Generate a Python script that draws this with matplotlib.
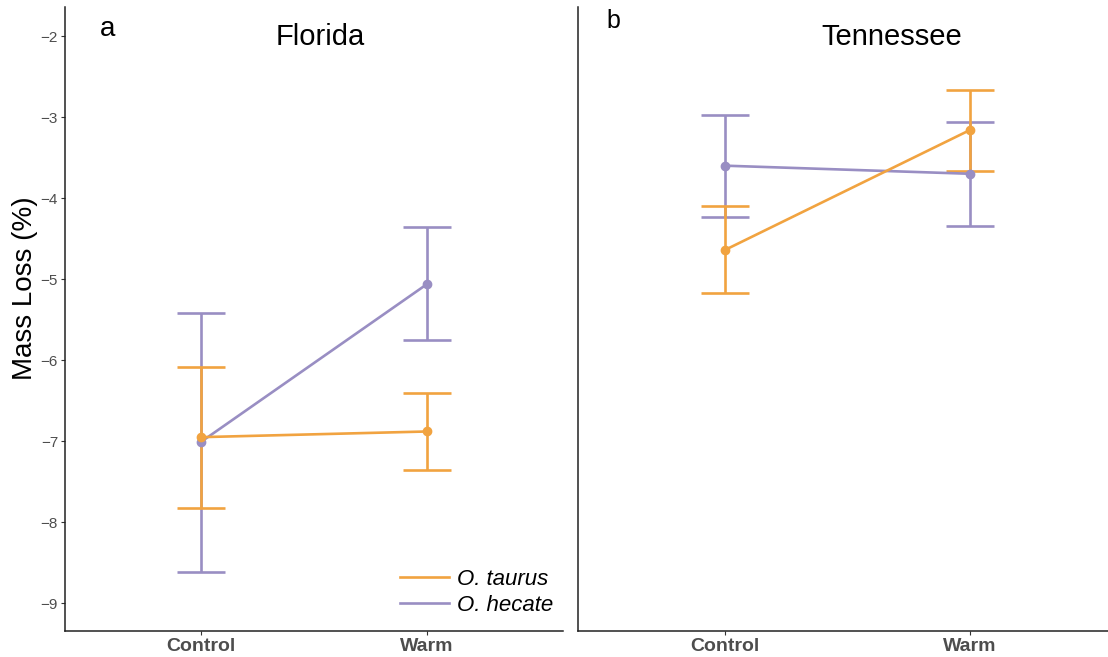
import matplotlib
matplotlib.use('Agg')
import matplotlib.pyplot as plt
import numpy as np

plt.rcParams['font.family'] = ['Liberation Sans', 'DejaVu Sans']

groups = ['Control', 'Warm']
species = ['O. taurus', 'O. hecate']
colors = {'O. taurus': '#f1a340', 'O. hecate': '#998ec3'}

# Florida: mean, lower and upper error bar ends
fl_taurus = [-6.95, -6.88]
fl_taurus_lo = [-7.83, -7.36]
fl_taurus_hi = [-6.08, -6.40]
fl_hecate = [-7.01, -5.06]
fl_hecate_lo = [-8.61, -5.75]
fl_hecate_hi = [-5.42, -4.36]

# Tennessee
tn_taurus = [-4.64, -3.16]
tn_taurus_lo = [-5.17, -3.66]
tn_taurus_hi = [-4.10, -2.67]
tn_hecate = [-3.60, -3.70]
tn_hecate_lo = [-4.23, -4.34]
tn_hecate_hi = [-2.97, -3.06]

W, H = 1108, 657
fig = plt.figure(figsize=(W / 100, H / 100), dpi=100)


def px(x0, y0, x1, y1):
    return [x0 / W, 1 - y1 / H, (x1 - x0) / W, (y1 - y0) / H]


ax1 = fig.add_axes(px(65, 7, 563, 631))
ax2 = fig.add_axes(px(578, 7, 1117, 631))

xs = np.arange(len(groups))


def draw(ax, series):
    handles = {}
    for name, mean, lo, hi in series:
        mean = np.array(mean)
        yerr = [mean - np.array(lo), np.array(hi) - mean]
        ax.errorbar(xs, mean, yerr=yerr, fmt='none', ecolor=colors[name],
                    elinewidth=1.9, capsize=17, capthick=1.9, zorder=2)
        h, = ax.plot(xs, mean, color=colors[name], lw=1.9, marker='o',
                     markersize=6, zorder=3)
        handles[name] = h
    return handles


hd = draw(ax1, [('O. hecate', fl_hecate, fl_hecate_lo, fl_hecate_hi),
                ('O. taurus', fl_taurus, fl_taurus_lo, fl_taurus_hi)])
draw(ax2, [('O. hecate', tn_hecate, tn_hecate_lo, tn_hecate_hi),
           ('O. taurus', tn_taurus, tn_taurus_lo, tn_taurus_hi)])

for ax in (ax1, ax2):
    ax.set_xlim(-0.6, 1.6)
    ax.set_ylim(-9.342, -1.642)
    ax.set_yticks([-9, -8, -7, -6, -5, -4, -3, -2])
    ax.set_yticklabels(['\u22129', '\u22128', '\u22127', '\u22126', '\u22125',
                        '\u22124', '\u22123', '\u22122'])
    ax.set_xticks(xs)
    ax.set_xticklabels(groups, fontsize=14, fontweight='bold', color='#4D4D4D')
    for s in ('top', 'right'):
        ax.spines[s].set_visible(False)
    for s in ('left', 'bottom'):
        ax.spines[s].set_linewidth(1.1)
        ax.spines[s].set_color('#222222')
    ax.tick_params(axis='x', length=3, width=0.8, color='#333333', pad=2)
    ax.tick_params(axis='y', length=3, width=0.8, color='#333333',
                   labelsize=11, labelcolor='#4D4D4D', pad=2)

ax2.tick_params(axis='y', left=False, labelleft=False)

fig.text(25 / W, 1 - 288 / H, 'Mass Loss (%)', fontsize=20, rotation=90,
         ha='center', va='center')

fig.text(320 / W, 1 - 37 / H, 'Florida', fontsize=21, ha='center', va='center')
fig.text(892 / W, 1 - 37 / H, 'Tennessee', fontsize=21, ha='center', va='center')
fig.text(108 / W, 1 - 29 / H, 'a', fontsize=20, ha='center', va='center')
fig.text(613 / W, 1 - 21 / H, 'b', fontsize=18, ha='center', va='center')

leg = ax1.legend([hd['O. taurus'], hd['O. hecate']], species,
                 loc='lower left', bbox_to_anchor=(400 / W, 1 - 616 / H),
                 bbox_transform=fig.transFigure, frameon=False,
                 prop={'style': 'italic', 'size': 16},
                 handlelength=2.2, handletextpad=0.35, labelspacing=0.22,
                 borderpad=0, borderaxespad=0)
for line in leg.get_lines():
    line.set_marker('')
    line.set_linewidth(1.9)

fig.savefig('out.png', dpi=100)
